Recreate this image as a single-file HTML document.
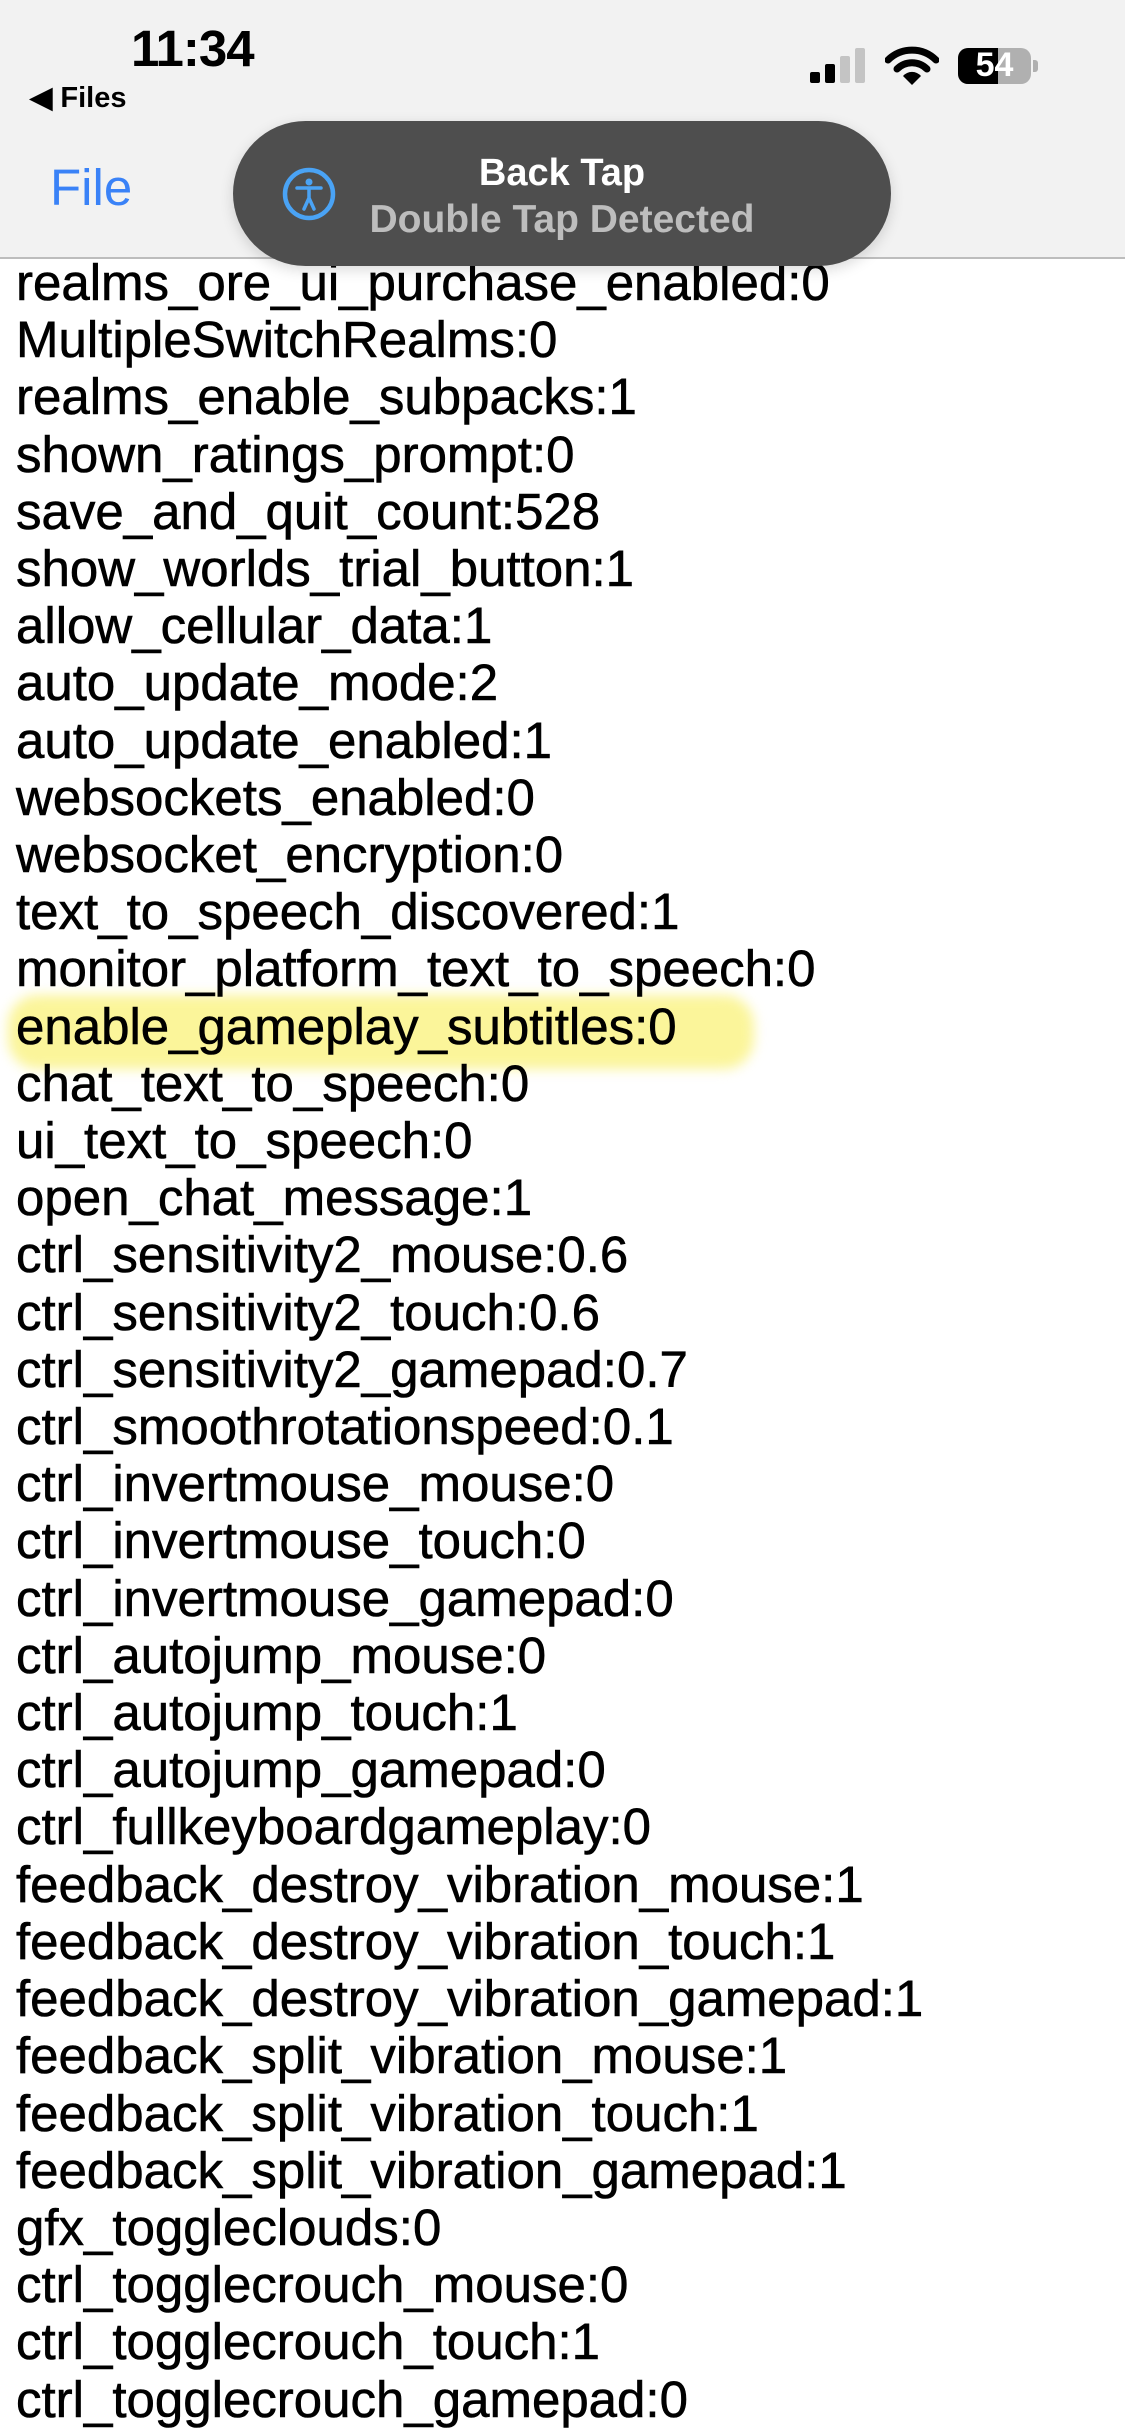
<!DOCTYPE html>
<html><head><meta charset="utf-8"><style>
html,body{margin:0;padding:0}
body{width:1125px;height:2436px;background:#fff;position:relative;overflow:hidden;font-family:"Liberation Sans",sans-serif}
#list{position:absolute;left:16px;top:254px;font-size:51px;line-height:57.2px;color:#000;white-space:pre;z-index:1;-webkit-text-stroke:0.6px #000}
#hl{position:absolute;left:8px;top:995px;width:746px;height:74px;background:#fbf59a;border-radius:30px;filter:blur(6px);z-index:0}
#hdr{position:absolute;left:0;top:0;width:1125px;height:257px;background:#f2f2f2;border-bottom:2px solid #bdbdbd;z-index:2}
.abs{position:absolute}
</style></head><body>
<div id="hl"></div>
<div id="list">realms_ore_ui_purchase_enabled:0
MultipleSwitchRealms:0
realms_enable_subpacks:1
shown_ratings_prompt:0
save_and_quit_count:528
show_worlds_trial_button:1
allow_cellular_data:1
auto_update_mode:2
auto_update_enabled:1
websockets_enabled:0
websocket_encryption:0
text_to_speech_discovered:1
monitor_platform_text_to_speech:0
enable_gameplay_subtitles:0
chat_text_to_speech:0
ui_text_to_speech:0
open_chat_message:1
ctrl_sensitivity2_mouse:0.6
ctrl_sensitivity2_touch:0.6
ctrl_sensitivity2_gamepad:0.7
ctrl_smoothrotationspeed:0.1
ctrl_invertmouse_mouse:0
ctrl_invertmouse_touch:0
ctrl_invertmouse_gamepad:0
ctrl_autojump_mouse:0
ctrl_autojump_touch:1
ctrl_autojump_gamepad:0
ctrl_fullkeyboardgameplay:0
feedback_destroy_vibration_mouse:1
feedback_destroy_vibration_touch:1
feedback_destroy_vibration_gamepad:1
feedback_split_vibration_mouse:1
feedback_split_vibration_touch:1
feedback_split_vibration_gamepad:1
gfx_toggleclouds:0
ctrl_togglecrouch_mouse:0
ctrl_togglecrouch_touch:1
ctrl_togglecrouch_gamepad:0</div>
<div id="hdr">
  <div class="abs" style="left:131px;top:19px;font-size:51px;font-weight:bold;letter-spacing:-1px">11:34</div>
  <div class="abs" style="left:30px;top:80px;font-size:29px;font-weight:bold">&#9664; Files</div>
  <div class="abs" style="left:50px;top:158px;font-size:51px;color:#3a82f7">File</div>
  <div class="abs" style="left:810px;top:72px;width:10px;height:11px;background:#000;border-radius:2px"></div>
  <div class="abs" style="left:825px;top:64px;width:10px;height:19px;background:#000;border-radius:2px"></div>
  <div class="abs" style="left:840px;top:56px;width:10px;height:27px;background:#c4c4c4;border-radius:2px"></div>
  <div class="abs" style="left:855px;top:48px;width:10px;height:35px;background:#c4c4c4;border-radius:2px"></div>
  <svg class="abs" style="left:885px;top:46px" width="54" height="40" viewBox="0 0 54 40">
    <path d="M3 14 A34 34 0 0 1 51 14" stroke="#000" stroke-width="7" fill="none" stroke-linecap="round"/>
    <path d="M12 23 A21 21 0 0 1 42 23" stroke="#000" stroke-width="7" fill="none" stroke-linecap="round"/>
    <path d="M27 39 L18 30 A12 12 0 0 1 36 30 Z" fill="#000"/>
  </svg>
  <div class="abs" style="left:958px;top:48px;width:73px;height:36px;border-radius:10px;background:#b0b0b0;overflow:hidden">
    <div style="width:40px;height:36px;background:#000"></div>
  </div>
  <div class="abs" style="left:1033px;top:60px;width:5px;height:12px;background:#b0b0b0;border-radius:0 3px 3px 0"></div>
  <div class="abs" style="left:958px;top:46px;width:73px;text-align:center;font-size:34px;font-weight:bold;color:#fff">54</div>
</div>
<div class="abs" style="left:233px;top:121px;width:658px;height:145px;border-radius:73px;background:#4e4e4e;z-index:3;box-shadow:0 4px 14px rgba(0,0,0,0.15)">
  <svg class="abs" style="left:49px;top:46px" width="54" height="54" viewBox="0 0 54 54">
    <circle cx="27" cy="27" r="24" stroke="#4aa3f5" stroke-width="4.5" fill="none"/>
    <circle cx="27" cy="15" r="3.5" fill="#4aa3f5"/>
    <path d="M15 21 L39 21 M27 21 L27 32 M27 31 L22 42 M27 31 L32 42" stroke="#4aa3f5" stroke-width="3.5" stroke-linecap="round" fill="none"/>
  </svg>
  <div class="abs" style="left:0;width:658px;top:31px;text-align:center;font-size:38px;font-weight:bold;color:#fff">Back Tap</div>
  <div class="abs" style="left:0;width:658px;top:77px;text-align:center;font-size:39px;font-weight:bold;color:#bdbdbd">Double Tap Detected</div>
</div>
</body></html>
